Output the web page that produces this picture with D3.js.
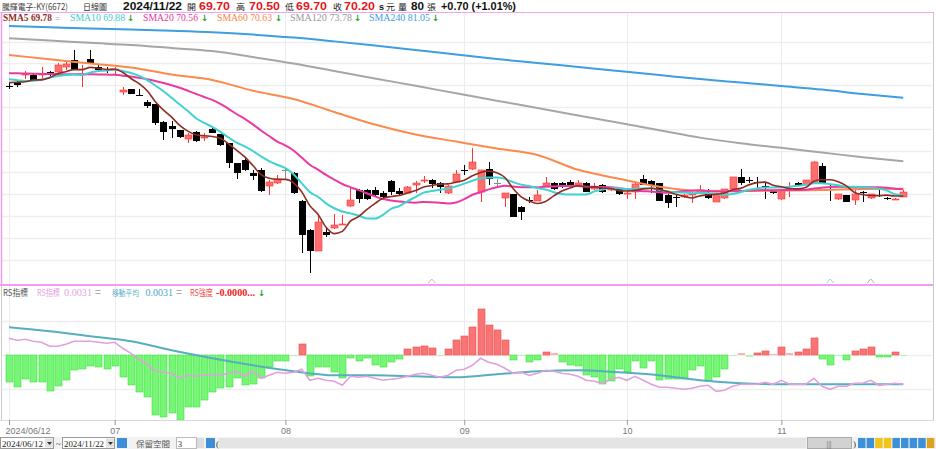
<!DOCTYPE html>
<html><head><meta charset="utf-8">
<script src="https://cdn.jsdelivr.net/npm/d3@7"></script>
<style>
html,body{margin:0;padding:0;background:#fff;overflow:hidden}
svg{display:block}
</style></head><body>
<svg id="chart" width="936" height="449"></svg>
<script>
// ---------- DATA ----------
const dates = [
"2024/06/12","2024/06/13","2024/06/14","2024/06/17","2024/06/18","2024/06/19","2024/06/20","2024/06/21","2024/06/24","2024/06/25","2024/06/26","2024/06/27","2024/06/28",
"2024/07/01","2024/07/02","2024/07/03","2024/07/04","2024/07/05","2024/07/08","2024/07/09","2024/07/10","2024/07/11","2024/07/12","2024/07/15","2024/07/16","2024/07/17","2024/07/18","2024/07/19","2024/07/22","2024/07/23","2024/07/26","2024/07/29","2024/07/30","2024/07/31",
"2024/08/01","2024/08/02","2024/08/05","2024/08/06","2024/08/07","2024/08/08","2024/08/09","2024/08/12","2024/08/13","2024/08/14","2024/08/15","2024/08/16","2024/08/19","2024/08/20","2024/08/21","2024/08/22","2024/08/23","2024/08/26","2024/08/27","2024/08/28","2024/08/29","2024/08/30",
"2024/09/02","2024/09/03","2024/09/04","2024/09/05","2024/09/06","2024/09/09","2024/09/10","2024/09/11","2024/09/12","2024/09/13","2024/09/16","2024/09/18","2024/09/19","2024/09/20","2024/09/23","2024/09/24","2024/09/25","2024/09/26","2024/09/27","2024/09/30",
"2024/10/01","2024/10/04","2024/10/07","2024/10/08","2024/10/09","2024/10/11","2024/10/14","2024/10/15","2024/10/16","2024/10/17","2024/10/18","2024/10/21","2024/10/22","2024/10/23","2024/10/24","2024/10/25","2024/10/28","2024/10/29","2024/10/30",
"2024/11/01","2024/11/04","2024/11/05","2024/11/06","2024/11/07","2024/11/08","2024/11/11","2024/11/12","2024/11/13","2024/11/14","2024/11/15","2024/11/18","2024/11/19","2024/11/20","2024/11/21","2024/11/22"];

const opens = [82.45,82.9,83.7,83.65,83.7,84.05,84.05,84.6,85.4,83.7,
85.5,84.6,84.3,84.35,81.75,82.05,81.4,80.6,80.3,78.3,
77.8,77.35,76.3,77.1,76.55,77.45,76.85,75.85,73.55,73.9,
72.45,72.8,70.95,71.25,72.75,72.45,69.25,65.95,63.5,65.7,
66.1,66.5,68.65,70.5,70.45,70.5,70.1,71.55,70.35,70.15,
71.05,71.6,71.65,71.25,70.1,71.45,72.8,72.85,70.3,72.85,
71.3,69.55,70.0,68.55,69.35,69.25,70.85,71.25,71.3,71.45,
71.05,71.25,70.55,71.05,70.5,70.55,70.05,70.3,71.8,71.55,
71.25,69.9,69.7,69.65,70.0,70.1,70.1,69.15,69.55,70.55,
72.0,71.6,71.35,70.9,70.4,69.4,70.5,71.3,71.05,71.25,
73.25,70.6,69.4,69.9,69.35,70.2,69.55,69.95,69.6,69.35,
69.7];
const highs = [82.7,83.1,84.15,83.8,84.6,84.15,85.1,85.3,86.55,84.8,
86.55,84.9,84.6,84.6,82.3,82.1,82.05,80.8,80.4,78.4,
78.4,77.4,77.05,77.2,77.0,77.8,76.9,75.9,73.6,74.15,
72.8,73.05,71.65,72.2,73.0,72.5,69.3,66.0,67.6,66.1,
67.7,67.6,70.7,70.55,70.55,70.85,70.4,71.6,70.7,70.9,
71.5,72.1,71.7,71.4,71.1,72.75,73.35,75.25,72.8,73.7,
71.8,70.1,70.0,68.6,69.65,70.5,72.0,71.35,71.4,71.6,
71.6,71.4,71.3,71.2,70.8,70.6,70.5,71.3,72.2,71.6,
71.3,70.0,69.9,70.0,70.3,71.05,70.55,70.1,70.6,72.0,
72.85,72.0,71.95,71.25,70.5,70.55,71.4,71.35,71.65,73.8,
73.55,71.05,70.05,69.95,70.5,70.35,70.05,70.5,69.65,69.6,
70.5];
const lows = [82.1,82.3,83.2,83.0,83.1,83.6,83.9,84.3,84.3,82.3,
84.9,84.2,83.9,83.75,81.4,81.45,81.35,79.9,77.95,76.2,
76.4,76.5,75.9,75.95,76.05,77.0,75.5,72.95,71.7,72.7,
71.65,70.3,69.9,71.2,71.8,70.0,63.2,60.95,63.45,65.1,
66.0,66.5,68.5,69.0,69.3,69.8,69.4,69.9,69.75,70.1,
70.15,71.25,70.7,70.15,70.0,71.4,72.2,72.8,69.15,71.05,
70.85,68.55,67.4,67.05,68.95,69.2,70.8,70.45,70.75,70.9,
71.0,70.2,70.5,70.1,70.4,69.9,69.4,69.4,71.0,70.15,
69.2,68.4,68.55,69.6,68.95,70.05,69.5,69.1,69.5,70.5,
71.05,71.3,70.7,69.5,70.0,69.35,69.7,71.0,71.0,71.2,
71.25,69.25,69.35,69.1,68.75,69.15,69.5,69.65,69.35,69.3,
69.7];
const closes = [82.4,82.5,83.8,83.1,83.8,83.65,84.8,84.9,84.3,83.8,
84.95,84.3,84.2,84.4,81.95,81.5,81.35,80.1,78.15,77.15,
77.45,76.6,76.8,76.05,76.6,77.05,75.6,73.55,72.4,72.8,
72.1,70.4,71.45,71.8,72.75,70.1,65.3,63.5,66.85,65.3,
66.45,66.6,69.35,69.4,69.4,69.9,69.65,70.3,70.0,70.85,
71.3,71.65,71.15,70.85,70.95,72.3,72.75,73.7,72.8,71.7,
71.3,70.1,67.4,68.0,69.3,69.9,71.25,70.55,70.85,70.95,
71.25,70.3,70.85,70.2,70.7,70.0,70.1,71.2,71.05,71.05,
69.25,68.95,69.65,69.9,70.05,70.5,69.55,70.0,70.55,71.95,
71.3,71.55,71.3,70.85,70.1,70.5,70.55,71.05,71.6,73.75,
71.3,70.55,70.0,69.15,70.0,70.15,70.0,69.9,69.4,69.5,
70.2];

// moving-average values before a full window exists inside the shown range
const sma5Head  = [82.8,82.85,82.9,83.1];
const sma10Head = [83.18,83.07,82.98,83.0,83.15,83.38,83.55,83.67,83.72];
const sma20Head = [83.87,83.87,83.85,83.83,83.8,83.8,83.78,83.77,83.76,83.75,83.75,83.74,83.72,83.7,83.6,83.5,83.35,83.18,82.98];

// long averages at every 5th trading day
const sma60  = [85.96,85.48,85.0,84.53,83.73,83.1,81.86,80.92,79.43,77.99,76.85,76.04,75.24,74.5,72.8,71.78,70.86,70.4,70.37,70.42,70.48,70.6,70.63];
const sma120 = [87.88,87.63,87.36,87.11,86.77,86.42,85.73,84.99,84.13,83.28,82.43,81.58,80.73,79.89,79.04,78.19,77.34,76.49,75.85,75.32,74.78,74.24,73.78];
const sma240 = [89.29,89.15,89.01,88.88,88.74,88.57,88.31,87.97,87.53,87.05,86.54,86.02,85.5,85.05,84.59,84.13,83.67,83.21,82.81,82.41,82.01,81.49,81.05];

// RS panel
const rsLine = [0.0077,0.0075,0.0076,0.0074,0.0073,0.0069,0.0069,0.0071,0.0074,0.0074,
0.0074,0.0073,0.0072,0.0073,0.0067,0.0062,0.0056,0.0051,0.0044,0.0043,
0.0042,0.0037,0.0040,0.0039,0.0040,0.0041,0.0040,0.0042,0.0044,0.0039,
0.0044,0.0037,0.0040,0.0043,0.0042,0.0043,0.0046,0.0035,0.0037,0.0035,
0.0034,0.0030,0.0039,0.0038,0.0039,0.0037,0.0035,0.0036,0.0037,0.0039,
0.0041,0.0042,0.0040,0.0038,0.0040,0.0045,0.0046,0.0050,0.0057,0.0053,
0.0051,0.0047,0.0042,0.0043,0.0040,0.0042,0.0045,0.0044,0.0042,0.0041,
0.0039,0.0035,0.0034,0.0032,0.0036,0.0038,0.0035,0.0039,0.0035,0.0031,
0.0028,0.0028,0.0027,0.0026,0.0027,0.0029,0.0030,0.0024,0.0025,0.0029,
0.0031,0.0031,0.0031,0.0033,0.0031,0.0035,0.0031,0.0031,0.0031,0.0037,
0.0029,0.0026,0.0029,0.0029,0.0032,0.0032,0.0035,0.0030,0.0031,0.0032,
0.0031];
const rsMA = [0.0088,0.0084,0.0079,0.0074,0.0065,0.0057,0.0050,0.0044,0.0040,0.0040,0.0039,0.0038,0.0041,0.0044,0.0045,0.0043,0.0040,0.0035,0.0032,0.0031,0.0031,0.0031,0.0031];
const rsStrength = [-0.80,-0.93,-0.71,-0.80,-0.79,-1.06,-0.90,-0.74,-0.44,-0.41,
-0.32,-0.34,-0.42,-0.32,-0.66,-0.88,-1.10,-1.23,-1.76,-1.83,
-1.71,-1.94,-1.52,-1.54,-1.32,-1.08,-0.98,-0.95,-0.69,-0.88,
-0.85,-0.69,-0.34,-0.18,-0.17,-0.03,0.31,-0.62,-0.36,-0.36,
-0.49,-0.69,-0.08,-0.17,-0.10,-0.29,-0.34,-0.20,-0.12,0.17,
0.24,0.27,0.20,-0.03,0.17,0.44,0.56,0.81,1.34,0.88,
0.74,0.44,-0.15,-0.03,-0.20,-0.15,0.10,0.05,-0.20,-0.29,
-0.31,-0.59,-0.64,-0.85,-0.76,-0.42,-0.49,-0.17,-0.37,-0.18,
-0.74,-0.71,-0.71,-0.71,-0.44,-0.32,-0.76,-0.64,-0.41,-0.03,
0.05,-0.05,0.07,0.13,0.03,0.23,0.05,0.08,0.17,0.49,
-0.13,-0.29,-0.03,-0.15,0.13,0.17,0.23,-0.07,-0.07,0.08,
-0.03];

const tickDates  = ["2024/06/12","2024/07/01","2024/08/01","2024/09/02","2024/10/01","2024/11/01"];
const tickLabels = ["2024/06/12","07","08","09","10","11"];
const priceGrid  = [62.5,65,67.5,70,72.5,75,77.5,80,82.5,85,87.5];
const rsGrid     = [1,0,-1];
const markerDates = ["2024/08/27","2024/11/11","2024/11/18"];

// ---------- SCALES ----------
const svg = d3.select("#chart");
const x = d3.scalePoint().domain(dates).range([9, 903.3]);
const y = d3.scaleLinear().domain([59.7, 90.9]).range([284, 12]);
const yBar = d3.scaleLinear().domain([0, 1]).range([355, 321]);
const yRS = d3.scaleLinear().domain([0.0031, 0.0131]).range([384.3, 284.3]);
const sampleDates = dates.filter((d, i) => i % 5 === 0);
const px = d => Math.round(x(d));

function sma(n, head) {
  return closes.map((c, i) => i < n - 1 ? head[i] : d3.mean(closes.slice(i - n + 1, i + 1)));
}
const sma5 = sma(5, sma5Head), sma10 = sma(10, sma10Head), sma20 = sma(20, sma20Head);

// ---------- GRID ----------
const grid = svg.append("g");
grid.selectAll("line.h").data(priceGrid).join("line")
  .attr("x1", 2).attr("x2", 932)
  .attr("y1", d => Math.round(y(d)) + 0.5).attr("y2", d => Math.round(y(d)) + 0.5)
  .attr("stroke", "#eeeeee").attr("stroke-width", 1.5);
grid.selectAll("line.r").data(rsGrid).join("line")
  .attr("x1", 2).attr("x2", 932)
  .attr("y1", d => Math.round(yBar(d)) + 0.5).attr("y2", d => Math.round(yBar(d)) + 0.5)
  .attr("stroke", "#eeeeee").attr("stroke-width", 1.5);
grid.selectAll("line.v").data(tickDates).join("line")
  .attr("x1", d => px(d) + 0.5).attr("x2", d => px(d) + 0.5)
  .attr("y1", 13).attr("y2", 420)
  .attr("stroke", "#ececec").attr("stroke-width", 1);

// ---------- CANDLES ----------
const bars = dates.map((d, i) => ({date: d, o: opens[i], h: highs[i], l: lows[i], c: closes[i]}));
const upFill = "#ff6e6e", upWick = "#ff3535";
const colOf = d => d.c > d.o ? "up" : (d.c < d.o ? "dn" : "flat");
const cg = svg.append("g");
cg.selectAll("line").data(bars).join("line")
  .attr("x1", d => px(d.date) + 0.5).attr("x2", d => px(d.date) + 0.5)
  .attr("y1", d => Math.round(y(d.h))).attr("y2", d => Math.round(y(d.l)))
  .attr("stroke", d => ({up: upWick, dn: "#000", flat: "#8a8a8a"})[colOf(d)])
  .attr("stroke-width", 1);
cg.selectAll("rect").data(bars).join("rect")
  .attr("x", d => px(d.date) - 3).attr("width", 7)
  .attr("y", d => Math.round(y(Math.max(d.o, d.c))))
  .attr("height", d => Math.max(1, Math.round(y(Math.min(d.o, d.c))) - Math.round(y(Math.max(d.o, d.c)))))
  .attr("fill", d => ({up: upFill, dn: "#000", flat: "#8a8a8a"})[colOf(d)])
  .attr("stroke", d => colOf(d) === "up" ? upWick : "none").attr("stroke-width", 0.6);

// ---------- MOVING AVERAGES ----------
const lineDaily = d3.line().x((d, i) => x(dates[i])).y(d => y(d)).curve(d3.curveMonotoneX);
const lineSample = d3.line().x((d, i) => x(sampleDates[i])).y(d => y(d)).curve(d3.curveMonotoneX);
const mg = svg.append("g").attr("fill", "none");
mg.append("path").attr("d", lineSample(sma240)).attr("stroke", "#3d9ee0").attr("stroke-width", 2);
mg.append("path").attr("d", lineSample(sma120)).attr("stroke", "#a6a6a6").attr("stroke-width", 2);
mg.append("path").attr("d", lineSample(sma60)).attr("stroke", "#fb8a4c").attr("stroke-width", 2);
mg.append("path").attr("d", lineDaily(sma20)).attr("stroke", "#ea3aa2").attr("stroke-width", 2);
mg.append("path").attr("d", lineDaily(sma10)).attr("stroke", "#3fd2d2").attr("stroke-width", 2);
mg.append("path").attr("d", lineDaily(sma5)).attr("stroke", "#8e2e22").attr("stroke-width", 1.6);

// small markers at panel bottom
const markerColors = ["#f2a0c8", "#88d8e8", "#c8a0b0"];
svg.append("g").selectAll("path").data(markerDates).join("path")
  .attr("d", d => `M${x(d) - 3.5},283 L${x(d)},279 L${x(d) + 3.5},283`)
  .attr("fill", "none").attr("stroke", (d, i) => markerColors[i]).attr("stroke-width", 1);

// ---------- RS PANEL ----------
const rg = svg.append("g");
rg.selectAll("rect").data(rsStrength).join("rect")
  .attr("x", (d, i) => px(dates[i]) - 3).attr("width", 7)
  .attr("y", d => d >= 0 ? Math.round(yBar(d)) : Math.round(yBar(0)))
  .attr("height", d => Math.max(1, Math.min(420, Math.round(yBar(d < 0 ? d : 0))) - Math.round(yBar(d >= 0 ? d : 0))))
  .attr("fill", d => d >= 0 ? (d < 0.06 ? "#f7b4b4" : "#f97575") : (d > -0.06 ? "#b4f5b4" : "#76f576"))
  .attr("stroke", d => d >= 0 ? "#f24a4a" : "#3fe23f").attr("stroke-width", d => Math.abs(d) < 0.06 ? 0 : 0.6);
const lineRS = d3.line().x((d, i) => x(dates[i])).y(d => yRS(d)).curve(d3.curveLinear);
const lineRSMA = d3.line().x((d, i) => x(sampleDates[i])).y(d => yRS(d)).curve(d3.curveMonotoneX);
rg.append("path").attr("d", lineRSMA(rsMA)).attr("fill", "none").attr("stroke", "#56aebf").attr("stroke-width", 2);
rg.append("path").attr("d", lineRS(rsLine)).attr("fill", "none").attr("stroke", "#e1a0de").attr("stroke-width", 1.6);

// ---------- FRAME ----------
const fr = svg.append("g");
fr.append("line").attr("x1", 0).attr("x2", 934).attr("y1", 12.5).attr("y2", 12.5).attr("stroke", "#f1a6ee").attr("stroke-width", 1);
fr.append("line").attr("x1", 1.5).attr("x2", 1.5).attr("y1", 12).attr("y2", 286).attr("stroke", "#ee9ef0").attr("stroke-width", 1.5);
fr.append("line").attr("x1", 1.5).attr("x2", 1.5).attr("y1", 286).attr("y2", 420).attr("stroke", "#cccccc").attr("stroke-width", 1);
fr.append("line").attr("x1", 0).attr("x2", 934).attr("y1", 285).attr("y2", 285).attr("stroke", "#f09cf0").attr("stroke-width", 2);
fr.append("line").attr("x1", 933.5).attr("x2", 933.5).attr("y1", 12).attr("y2", 420).attr("stroke", "#c8c8c8").attr("stroke-width", 1);
fr.append("line").attr("x1", 0).attr("x2", 934).attr("y1", 420.5).attr("y2", 420.5).attr("stroke", "#d8d8d8").attr("stroke-width", 1);

// ---------- X AXIS ----------
const ax = svg.append("g").attr("transform", "translate(0,420)")
  .call(d3.axisBottom(x).tickValues(tickDates).tickFormat((d, i) => tickLabels[i]).tickSize(5).tickPadding(3));
ax.select(".domain").remove();
ax.selectAll(".tick line").attr("stroke", "#999");
ax.selectAll(".tick text").attr("fill", "#777").attr("font-size", 9).attr("font-family", "Liberation Sans, Arial, sans-serif");
ax.selectAll(".tick text").filter((d, i) => i === 0).attr("text-anchor", "start").attr("dx", -4);

// ---------- TEXT ----------
function txt(xp, yp, s, o = {}) {
  const t = svg.append("text").attr("x", xp).attr("y", yp).text(s)
    .attr("font-family", o.ff || "Liberation Sans, Arial, sans-serif")
    .attr("font-size", o.fs || 11).attr("font-weight", o.fw || "normal")
    .attr("fill", o.c || "#222");
  if (o.w) t.attr("textLength", o.w).attr("lengthAdjust", "spacingAndGlyphs");
  return t;
}
const CJK = "Noto Sans CJK TC, sans-serif";
const SER = "Liberation Serif, Times New Roman, serif";
// header
const HB = 10;
txt(2, HB, "騰輝電子-KY(6672)", {ff: CJK, fs: 8.5, c: "#444", w: 66});
txt(83, HB, "日線圖", {ff: CJK, fs: 8.5, c: "#333", w: 24});
txt(123, HB, "2024/11/22", {fs: 11, fw: "bold", c: "#111", w: 59});
txt(187, HB, "開", {ff: CJK, fs: 8.5, w: 9});
txt(199, HB, "69.70", {fs: 11, fw: "bold", c: "#e3161b", w: 31});
txt(236, HB, "高", {ff: CJK, fs: 8.5, w: 9});
txt(249, HB, "70.50", {fs: 11, fw: "bold", c: "#e3161b", w: 31});
txt(285, HB, "低", {ff: CJK, fs: 8.5, w: 9});
txt(296, HB, "69.70", {fs: 11, fw: "bold", c: "#e3161b", w: 31});
txt(333, HB, "收", {ff: CJK, fs: 8.5, w: 9});
txt(344, HB, "70.20", {fs: 11, fw: "bold", c: "#e3161b", w: 31});
txt(379, HB, "s", {fs: 9, fw: "bold", c: "#111", w: 5});
txt(386, HB, "元", {ff: CJK, fs: 8.5, w: 9});
txt(398, HB, "量", {ff: CJK, fs: 8.5, w: 9});
txt(411, HB, "80", {fs: 11, fw: "bold", c: "#111", w: 13});
txt(427, HB, "張", {ff: CJK, fs: 8.5, w: 9});
txt(441, HB, "+0.70 (+1.01%)", {fs: 11, fw: "bold", c: "#111", w: 75});

// MA legend
const LB = 21;
const arrow = (xp, yp) => txt(xp, yp, "↓", {ff: "DejaVu Sans, sans-serif", fs: 8.5, fw: "bold", c: "#19a019"});
txt(3, LB, "SMA5 69.78", {ff: SER, fs: 9.5, fw: "bold", c: "#8e2e22", w: 49});
txt(55, LB, "=", {fs: 8.5, c: "#999"});
txt(70, LB, "SMA10 69.88", {ff: SER, fs: 9.5, c: "#3fcccc", w: 55}); arrow(127, LB);
txt(143, LB, "SMA20 70.56", {ff: SER, fs: 9.5, c: "#e8349e", w: 55}); arrow(201, LB);
txt(217, LB, "SMA60 70.63", {ff: SER, fs: 9.5, c: "#f98544", w: 55}); arrow(275, LB);
txt(290, LB, "SMA120 73.78", {ff: SER, fs: 9.5, c: "#999999", w: 62}); arrow(354, LB);
txt(369, LB, "SMA240 81.05", {ff: SER, fs: 9.5, c: "#3d9ee0", w: 61}); arrow(432, LB);

// RS legend
txt(3, 296, "RS指標", {ff: CJK, fs: 9, c: "#555", w: 25});
txt(37, 296, "RS指標", {ff: CJK, fs: 9, c: "#e6a3e3", w: 23});
txt(64, 296, "0.0031", {ff: SER, fs: 10.5, c: "#e6a3e3", w: 28});
txt(95, 296, "=", {fs: 10, c: "#aaa"});
txt(112, 296, "移動平均", {ff: CJK, fs: 8.5, c: "#56aebf", w: 27});
txt(145.5, 296, "0.0031", {ff: SER, fs: 10.5, c: "#4aa6c4", w: 27.5});
txt(176, 296, "=", {fs: 10, c: "#aaa"});
txt(190, 296, "RS強度", {ff: CJK, fs: 9, c: "#f24848", w: 23});
txt(216, 296, "-0.0000...", {ff: SER, fs: 10.5, fw: "bold", c: "#f02020", w: 39});
arrow(258, 296);

// ---------- BOTTOM TOOLBAR ----------
const tb = svg.append("g");
tb.append("rect").attr("x", 0).attr("y", 437).attr("width", 936).attr("height", 12).attr("fill", "#f2f2f2");
function sel(x0, w, label) {
  tb.append("rect").attr("x", x0 + 0.5).attr("y", 437.5).attr("width", w).attr("height", 11).attr("fill", "#fff").attr("stroke", "#9a9a9a");
  tb.append("rect").attr("x", x0 + w - 8).attr("y", 438.5).attr("width", 8).attr("height", 9).attr("fill", "#e2e2e2");
  tb.append("text").attr("x", x0 + 2).attr("y", 446.5).text(label).attr("font-size", 8).attr("font-family", SER).attr("fill", "#222")
    .attr("textLength", w - 12).attr("lengthAdjust", "spacingAndGlyphs");
  tb.append("path").attr("d", `M${x0 + w - 6},442 h5 l-2.5,3 z`).attr("fill", "#333");
}
sel(0, 53, "2024/06/12");
tb.append("text").attr("x", 56).attr("y", 446.5).text("~").attr("font-size", 9).attr("fill", "#333");
sel(62, 52, "2024/11/22");
tb.append("rect").attr("x", 117).attr("y", 438).attr("width", 10).attr("height", 10).attr("fill", "#3c8fd8");
tb.append("text").attr("x", 136).attr("y", 446.5).text("保留空間").attr("font-size", 8.5).attr("font-family", CJK).attr("fill", "#555")
  .attr("textLength", 34).attr("lengthAdjust", "spacingAndGlyphs");
tb.append("rect").attr("x", 176.5).attr("y", 437.5).attr("width", 20).attr("height", 11).attr("fill", "#fff").attr("stroke", "#bbb");
tb.append("text").attr("x", 178).attr("y", 446.5).text("3").attr("font-size", 8).attr("fill", "#222");
tb.append("rect").attr("x", 197).attr("y", 438).attr("width", 7).attr("height", 10).attr("fill", "#dcdcdc");
tb.append("rect").attr("x", 206).attr("y", 438).attr("width", 9).attr("height", 10).attr("fill", "#3c8fd8");
tb.append("text").attr("x", 216).attr("y", 446.5).text("(").attr("font-size", 9).attr("fill", "#333");
tb.append("rect").attr("x", 219).attr("y", 438).attr("width", 587).attr("height", 10).attr("fill", "#e4e4e4");
tb.append("rect").attr("x", 807.5).attr("y", 437.5).attr("width", 44).attr("height", 11).attr("fill", "#d2d2d2").attr("stroke", "#aaa");
tb.append("text").attr("x", 829).attr("y", 446.5).text("|||").attr("text-anchor", "middle").attr("font-size", 8).attr("fill", "#555");
tb.append("text").attr("x", 853).attr("y", 446.5).text(")").attr("font-size", 9).attr("fill", "#333");
const icons = ["#3c8fd8", "#3c8fd8", "#f0c419", "#f0c419", "#3c8fd8", "#3c8fd8", "#3c8fd8", "#3c8fd8", "#e0a020"];
tb.selectAll("rect.ic").data(icons).join("rect").attr("class", "ic")
  .attr("x", (d, i) => 858 + i * 8.6).attr("y", 438).attr("width", 7.5).attr("height", 10).attr("fill", d => d);
</script>
</body></html>
